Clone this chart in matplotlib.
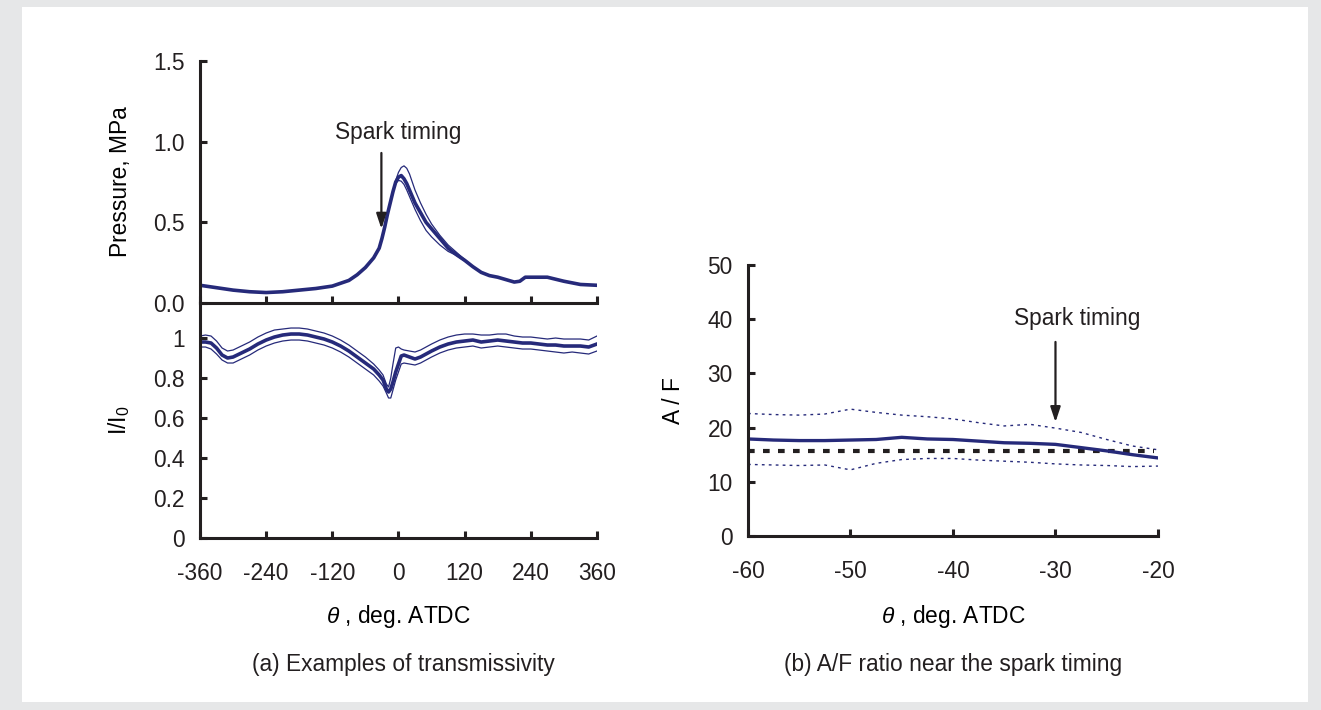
import numpy as np
import matplotlib
matplotlib.use('Agg')
import matplotlib.pyplot as plt
from matplotlib.patches import Rectangle

plt.rcParams['font.family'] = ['Liberation Sans', 'DejaVu Sans']
plt.rcParams['mathtext.fontset'] = 'custom'
plt.rcParams['mathtext.rm'] = 'Liberation Sans'
plt.rcParams['mathtext.it'] = 'Liberation Sans:italic'
plt.rcParams['axes.unicode_minus'] = False

# (a) pressure
th_p = [-360, -330, -300, -270, -240, -210, -180, -150, -120, -90, -75, -60, -45, -35,
        -30, -25, -20, -15, -10, -5, 0, 5, 10, 15, 20, 30, 40, 50, 60, 75, 90, 105,
        120, 135, 150, 165, 180, 195, 210, 220, 230, 240, 270, 300, 330, 360]
p_mean = [0.11, 0.095, 0.08, 0.07, 0.065, 0.07, 0.08, 0.09, 0.105, 0.14, 0.175, 0.22, 0.28, 0.34,
          0.40, 0.47, 0.55, 0.62, 0.69, 0.75, 0.78, 0.79, 0.77, 0.74, 0.70, 0.62, 0.56, 0.50, 0.46, 0.40, 0.34, 0.30,
          0.265, 0.225, 0.19, 0.17, 0.16, 0.145, 0.13, 0.135, 0.16, 0.16, 0.16, 0.135, 0.115, 0.11]
p_upper = [0.11, 0.095, 0.08, 0.07, 0.065, 0.07, 0.08, 0.09, 0.105, 0.14, 0.175, 0.22, 0.28, 0.34,
           0.40, 0.47, 0.55, 0.62, 0.69, 0.76, 0.81, 0.84, 0.85, 0.835, 0.80, 0.70, 0.62, 0.55, 0.49, 0.42, 0.36, 0.315,
           0.27, 0.225, 0.19, 0.17, 0.16, 0.145, 0.13, 0.135, 0.16, 0.16, 0.16, 0.135, 0.115, 0.11]
p_lower = [0.11, 0.095, 0.08, 0.07, 0.065, 0.07, 0.08, 0.09, 0.105, 0.14, 0.175, 0.22, 0.28, 0.34,
           0.40, 0.47, 0.55, 0.62, 0.69, 0.74, 0.76, 0.755, 0.735, 0.70, 0.66, 0.58, 0.51, 0.45, 0.41, 0.36, 0.32, 0.295,
           0.26, 0.225, 0.19, 0.17, 0.16, 0.145, 0.13, 0.135, 0.16, 0.16, 0.16, 0.135, 0.115, 0.11]

# (a) transmissivity I/I0
th_t = [-360, -350, -340, -330, -320, -310, -300, -285, -270, -255, -240, -225, -210, -195, -180,
        -165, -150, -135, -120, -105, -90, -75, -60, -45, -35, -28, -22, -18, -14, -10, -5, 0,
        5, 10, 20, 30, 40, 50, 60, 75, 90, 105, 120, 135, 150, 165, 180, 195, 210, 225, 240,
        255, 270, 285, 300, 315, 330, 345, 360]
t_mean = [0.98, 0.98, 0.975, 0.95, 0.915, 0.90, 0.905, 0.925, 0.945, 0.97, 0.99, 1.005, 1.015, 1.02, 1.02,
          1.015, 1.005, 0.995, 0.98, 0.96, 0.935, 0.905, 0.875, 0.845, 0.815, 0.79, 0.745, 0.73, 0.745, 0.78, 0.83, 0.87,
          0.91, 0.915, 0.905, 0.895, 0.905, 0.92, 0.935, 0.955, 0.97, 0.98, 0.985, 0.99, 0.98, 0.985, 0.99, 0.985, 0.98, 0.975, 0.975,
          0.97, 0.965, 0.965, 0.96, 0.96, 0.96, 0.955, 0.97]
t_upper = [1.01, 1.015, 1.01, 0.985, 0.95, 0.935, 0.94, 0.96, 0.98, 1.005, 1.025, 1.04, 1.045, 1.05, 1.05,
           1.045, 1.035, 1.025, 1.01, 0.99, 0.965, 0.935, 0.905, 0.87, 0.84, 0.815, 0.77, 0.755, 0.80, 0.87, 0.95, 0.955,
           0.945, 0.94, 0.935, 0.93, 0.94, 0.955, 0.97, 0.99, 1.005, 1.015, 1.02, 1.02, 1.015, 1.015, 1.02, 1.02, 1.01, 1.005, 1.005,
           1.0, 0.995, 1.0, 0.995, 0.995, 0.995, 0.99, 1.01]
t_lower = [0.955, 0.955, 0.945, 0.92, 0.89, 0.875, 0.875, 0.895, 0.915, 0.94, 0.96, 0.975, 0.985, 0.99, 0.99,
           0.985, 0.975, 0.965, 0.95, 0.93, 0.905, 0.875, 0.845, 0.815, 0.785, 0.76, 0.725, 0.70, 0.70, 0.74, 0.79, 0.83,
           0.87, 0.875, 0.87, 0.865, 0.875, 0.89, 0.905, 0.925, 0.94, 0.95, 0.955, 0.96, 0.95, 0.955, 0.96, 0.955, 0.95, 0.945, 0.945,
           0.94, 0.935, 0.93, 0.925, 0.93, 0.925, 0.92, 0.935]

# (b) A/F near spark timing
th_b = [-60, -57.5, -55, -52.5, -50, -47.5, -45, -42.5, -40, -37.5, -35, -32.5, -30, -27.5, -25, -22.5, -20]
af_mean = [17.9, 17.7, 17.6, 17.6, 17.7, 17.8, 18.2, 17.9, 17.8, 17.5, 17.2, 17.1, 16.9, 16.3, 15.7, 15.0, 14.4]
af_upper = [22.6, 22.4, 22.3, 22.5, 23.4, 22.8, 22.3, 22.0, 21.6, 20.9, 20.3, 20.6, 19.9, 19.1, 17.8, 16.6, 15.9]
af_lower = [13.2, 13.1, 13.0, 13.1, 12.2, 13.4, 14.1, 14.3, 14.3, 14.0, 13.8, 13.6, 13.3, 13.1, 13.0, 12.8, 12.9]
af_stoich = 15.7

navy = '#262a7a'
ink = '#231f20'
fs = 16.4

fig = plt.figure(figsize=(13.21, 7.10), dpi=100, facecolor='#e6e7e8')
fig.add_artist(Rectangle((22 / 1321, 1 - 702 / 710), (1308 - 22) / 1321, (702 - 7) / 710,
                         transform=fig.transFigure, facecolor='white', edgecolor='none', zorder=-10))

ax1 = fig.add_axes([0.1514, 0.5732, 0.3005, 0.3409])
ax2 = fig.add_axes([0.1514, 0.2423, 0.3005, 0.3309])
ax3 = fig.add_axes([0.5662, 0.2451, 0.3104, 0.3817])


def style(ax):
    ax.set_facecolor('none')
    for s in ['top', 'right']:
        ax.spines[s].set_visible(False)
    for s in ['left', 'bottom']:
        ax.spines[s].set_linewidth(2.2)
        ax.spines[s].set_color(ink)
    ax.tick_params(direction='in', length=5, width=2.2, color=ink, labelsize=fs,
                   labelcolor=ink)
    ax.tick_params(axis='y', pad=11)
    ax.tick_params(axis='x', pad=17)


# pressure
ax1.plot(th_p, p_upper, color=navy, lw=0.9)
ax1.plot(th_p, p_lower, color=navy, lw=0.9)
ax1.plot(th_p, p_mean, color=navy, lw=2.6)
ax1.set_xlim(-360, 360)
ax1.set_ylim(0, 1.5)
ax1.set_xticks([-360, -240, -120, 0, 120, 240, 360])
ax1.set_yticks([0, 0.5, 1.0, 1.5])
ax1.set_yticklabels(['0.0', '0.5', '1.0', '1.5'])
style(ax1)
ax1.tick_params(axis='x', labelbottom=False)
ax1.set_ylabel('Pressure, MPa', fontsize=fs)
ax1.yaxis.set_label_coords(-0.171, 0.5)
ax1.annotate('', xy=(-31, 0.46), xytext=(-31, 0.93),
             arrowprops=dict(arrowstyle='-|>,head_length=0.9,head_width=0.3', lw=1.6,
                             color=ink, mutation_scale=10, shrinkA=0, shrinkB=0))
ax1.text(-1, 1.057, 'Spark timing', fontsize=fs, ha='center', va='center', color=ink)

# transmissivity
ax2.plot(th_t, t_upper, color=navy, lw=0.9)
ax2.plot(th_t, t_lower, color=navy, lw=0.9)
ax2.plot(th_t, t_mean, color=navy, lw=2.6)
ax2.set_xlim(-360, 360)
ax2.set_ylim(0, 1.175)
ax2.set_xticks([-360, -240, -120, 0, 120, 240, 360])
ax2.set_yticks([0, 0.2, 0.4, 0.6, 0.8, 1.0])
ax2.set_yticklabels(['0', '0.2', '0.4', '0.6', '0.8', '1'])
style(ax2)
ax2.set_ylabel(r'I/I$_0$', fontsize=fs)
ax2.yaxis.set_label_coords(-0.171, 0.5)
ax2.set_xlabel(r'$\theta$ , deg. ATDC', fontsize=fs)
ax2.xaxis.set_label_coords(0.5, -0.277)

# A/F
ax3.plot(th_b, af_upper, color=navy, lw=1.0, dashes=(2, 3))
ax3.plot(th_b, af_lower, color=navy, lw=1.0, dashes=(2, 3))
ax3.plot([th_b[0], th_b[-1] - 0.4], [af_stoich, af_stoich], color=ink, lw=3.0,
         dashes=(1.6, 2.0), solid_capstyle='butt', dash_capstyle='butt')
ax3.plot(th_b, af_mean, color=navy, lw=2.4)
ax3.set_xlim(-60, -20)
ax3.set_ylim(0, 50)
ax3.set_xticks([-60, -50, -40, -30, -20])
ax3.set_yticks([0, 10, 20, 30, 40, 50])
style(ax3)
ax3.set_ylabel('A / F', fontsize=fs)
ax3.yaxis.set_label_coords(-0.154, 0.5)
ax3.set_xlabel(r'$\theta$ , deg. ATDC', fontsize=fs)
ax3.xaxis.set_label_coords(0.5, -0.247)
ax3.annotate('', xy=(-30, 21.0), xytext=(-30, 35.8),
             arrowprops=dict(arrowstyle='-|>,head_length=0.9,head_width=0.3', lw=1.6,
                             color=ink, mutation_scale=10, shrinkA=0, shrinkB=0))
ax3.text(-27.9, 40.2, 'Spark timing', fontsize=fs, ha='center', va='center', color=ink)

fig.text(403 / 1321, 1 - 664 / 710, '(a) Examples of transmissivity', fontsize=fs,
         ha='center', va='center', color=ink)
fig.text(953 / 1321, 1 - 664 / 710, '(b) A/F ratio near the spark timing', fontsize=fs,
         ha='center', va='center', color=ink)

fig.savefig('out.png', dpi=100, facecolor=fig.get_facecolor())
